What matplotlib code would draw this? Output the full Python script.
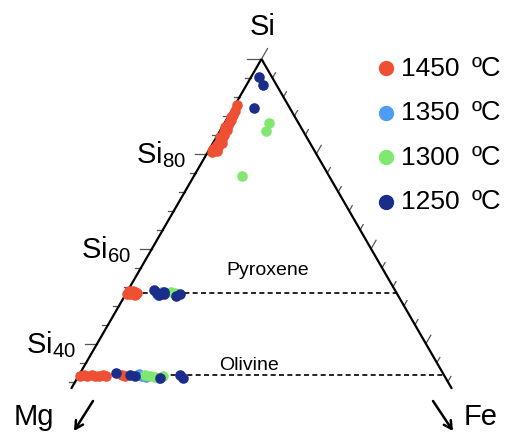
import numpy as np
import matplotlib.pyplot as plt

plt.rcParams['font.family'] = ['Liberation Sans', 'DejaVu Sans']
plt.rcParams['mathtext.fontset'] = 'custom'
plt.rcParams['mathtext.rm'] = 'Liberation Sans'
plt.rcParams['mathtext.it'] = 'Liberation Sans:italic'

# compositions in at% (Si, Fe); Mg makes up the rest
si_1450 = [80.3, 80.7, 81.1, 81.5, 81.9, 82.3, 82.7, 83.1, 83.5, 83.9, 84.3, 84.7,
           85.1, 85.6, 86.1, 86.6, 87.1, 87.7, 88.3, 89.0, 90.4,
           51.1, 50.4, 50.9, 50.3, 51.2, 50.5, 50.7,
           33.3, 33.5, 33.2, 33.4, 33.1, 33.3, 33.4, 33.2, 33.5, 33.3]
fe_1450 = [0.8, 1.5, 0.6, 1.4, 0.9, 1.6, 1.0, 1.3, 0.7, 1.2, 1.0, 0.8,
           1.1, 0.6, 0.9, 0.7, 0.8, 0.5, 0.6, 0.6, 0.4,
           0.3, 0.8, 1.4, 1.8, 1.0, 0.2, 2.0,
           0.2, 0.9, 1.6, 2.3, 3.0, 3.7, 4.4, 5.1, 7.8, 8.4]

si_1350 = [51.0, 50.5, 50.8, 50.3,
           33.6, 33.2, 33.0, 32.8]
fe_1350 = [5.2, 5.7, 6.5, 6.0,
           10.9, 11.6, 12.5, 14.9]

si_1300 = [86.5, 84.8, 75.35,
           51.0, 50.6,
           33.4, 33.2, 33.0, 33.3]
fe_1300 = [8.1, 8.4, 8.8,
           7.9, 8.9,
           12.1, 13.0, 14.0, 15.4]

si_1250 = [96.2, 94.5, 89.7,
           51.3, 50.7, 50.3, 51.0, 50.5, 50.1, 50.5,
           33.8, 33.5, 33.2, 32.7, 33.5, 32.8]
fe_1250 = [1.4, 3.0, 3.8,
           4.8, 5.6, 6.1, 6.7, 7.0, 9.4, 9.9,
           6.5, 9.3, 10.3, 15.2, 18.4, 19.3]

temps = ['1450', '1350', '1300', '1250']
colors = ['#EF5033', '#4D9DF2', '#80E870', '#1A2D8A']

si_ticks = np.arange(100, 31, -4)
si_major = [100, 80, 60, 40]
si_labels = [80, 60, 40]
pyroxene_si = 50.7
olivine_si = 100 / 3
edge_min_si = 30.5

W, H = 519, 435
scale = 5.48  # pixels per at%
apex_px = (261.5, 60)


def tern(si, fe):
    si = np.asarray(si, float)
    fe = np.asarray(fe, float)
    return fe + si / 2, si * np.sqrt(3) / 2


def fig_frac(x, y):
    return x / W, 1 - y / H


fig = plt.figure(figsize=(W / 100, H / 100), dpi=100)
ax = fig.add_axes([0, 0, 1, 1])
ax.set_xlim(50 - apex_px[0] / scale, 50 + (W - apex_px[0]) / scale)
ax.set_ylim(50 * np.sqrt(3) - (H - apex_px[1]) / scale, 50 * np.sqrt(3) + apex_px[1] / scale)
ax.axis('off')

# triangle edges, cut off below the olivine join
lx, ly = tern([100, edge_min_si], [0, 0])
rx, ry = tern([100, edge_min_si], [0, 100 - edge_min_si])
ax.plot(lx, ly, color='black', lw=1.6, solid_capstyle='butt', zorder=3)
ax.plot(rx, ry, color='black', lw=1.6, solid_capstyle='butt', zorder=3)

# ticks on both edges
c60, s60 = np.cos(np.pi / 3), np.sin(np.pi / 3)
for s in si_ticks:
    major = s in si_major
    x0, y0 = tern(s, 0)
    ln = 2.7 if s == 100 else (2.2 if major else 1.1)
    ax.plot([x0 - ln, x0], [y0, y0], color='#555555', lw=0.9, zorder=2)
    x1, y1 = tern(s, 100 - s)
    ln = 2.2 if s == 100 else (1.8 if major else 1.1)
    ax.plot([x1, x1 + ln * c60], [y1, y1 + ln * s60], color='#555555', lw=0.9, zorder=2)

for s in si_labels:
    x0, y0 = tern(s, 0)
    ax.annotate(r'Si$_{\mathrm{%d}}$' % s, (x0, y0), xytext=(-21, -8),
                textcoords='offset pixels', ha='right', va='baseline', fontsize=21)

# pyroxene and olivine joins
for s in [pyroxene_si, olivine_si]:
    jx, jy = tern([s, s], [0, 100 - s])
    ax.plot(jx, jy, color='black', lw=1.2, ls=(0, (3, 2)), zorder=1)

fig.text(*fig_frac(268, 275), 'Pyroxene', fontsize=14, ha='center', va='baseline')
fig.text(*fig_frac(248.5, 370), 'Olivine', fontsize=14, ha='center', va='baseline')

# measured compositions
series = [(si_1450, fe_1450), (si_1350, fe_1350), (si_1300, fe_1300), (si_1250, fe_1250)]
for (si, fe), c in zip(series, colors):
    x, y = tern(si, fe)
    ax.scatter(x, y, s=58, color=c, linewidths=0, zorder=4)

# corner labels
fig.text(*fig_frac(262.5, 35), 'Si', fontsize=21, ha='center', va='baseline')
fig.text(*fig_frac(34, 425), 'Mg', fontsize=21, ha='center', va='baseline')
fig.text(*fig_frac(481, 425), 'Fe', fontsize=21, ha='center', va='baseline')
arrow = dict(arrowstyle='->,head_length=0.55,head_width=0.3', lw=1.8, color='black',
             shrinkA=0, shrinkB=0)
ax.annotate('', xy=(74, H - 432), xytext=(93, H - 402), xycoords='figure pixels',
            textcoords='figure pixels', arrowprops=arrow)
ax.annotate('', xy=(453, H - 432), xytext=(433, H - 402), xycoords='figure pixels',
            textcoords='figure pixels', arrowprops=arrow)

# legend
for i, (t, c) in enumerate(zip(temps, colors)):
    yy = 69 + i * 44.5
    fig.lines.append(plt.Line2D([386 / W], [1 - yy / H], marker='o', ms=10, color=c,
                                lw=0, transform=fig.transFigure))
    fig.text(*fig_frac(401, yy), t, fontsize=19, ha='left', va='center')
    fig.text(*fig_frac(472, yy), 'ºC', fontsize=19.5, ha='left', va='center')

fig.savefig('out.png', dpi=100)
